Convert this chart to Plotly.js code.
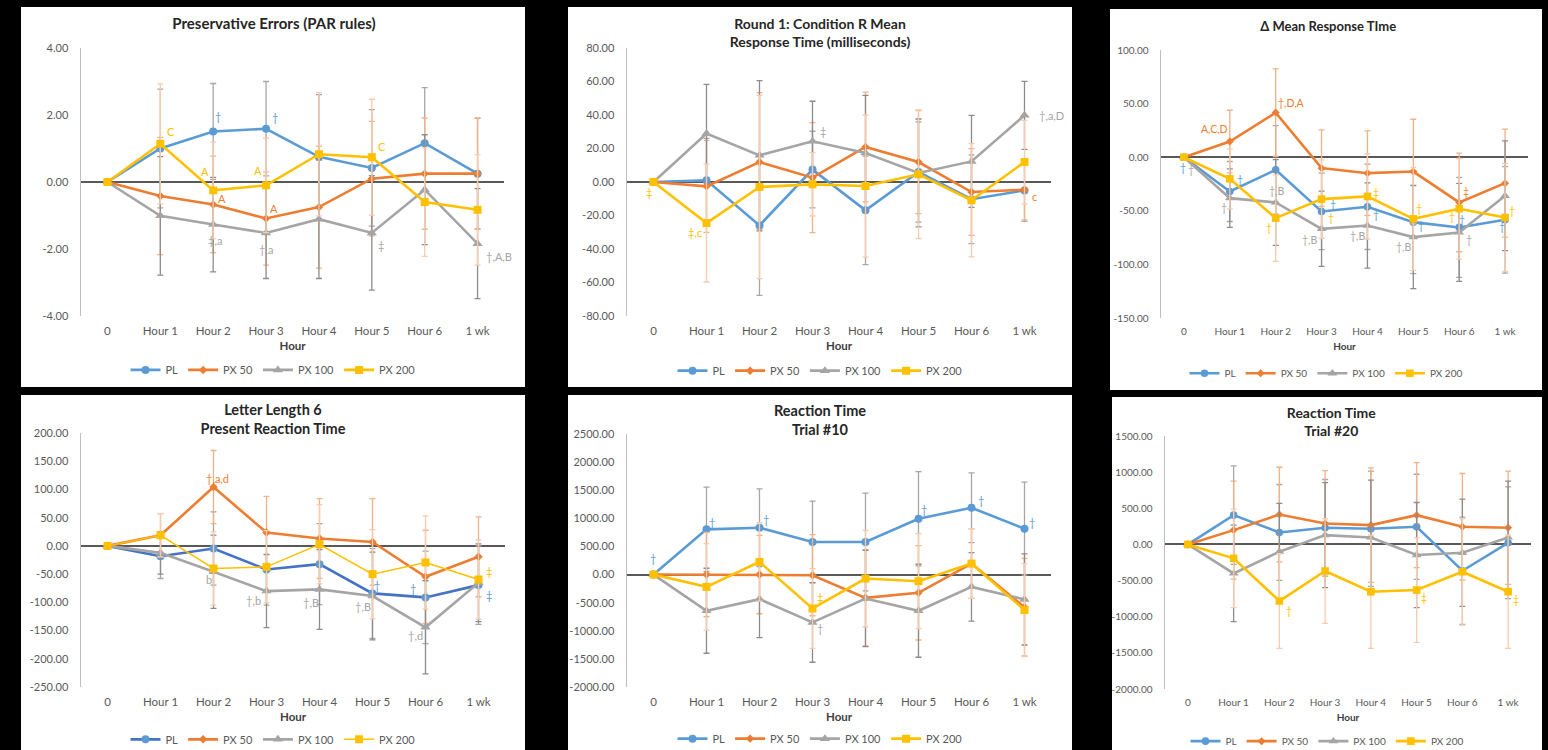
<!DOCTYPE html>
<html><head><meta charset="utf-8">
<script src="https://cdn.plot.ly/plotly-3.0.1.min.js"></script>
<style>
html,body{margin:0;padding:0;background:#000;width:1548px;height:750px;overflow:hidden;}
.panel{position:absolute;background:#fff;}
</style></head><body>
<div id="p1" class="panel" style="left:21px;top:7px;width:504px;height:380px"></div>
<div id="p2" class="panel" style="left:568px;top:7px;width:504px;height:380px"></div>
<div id="p3" class="panel" style="left:1110px;top:9px;width:432px;height:381px"></div>
<div id="p4" class="panel" style="left:21px;top:395px;width:504px;height:355px"></div>
<div id="p5" class="panel" style="left:568px;top:395px;width:504px;height:355px"></div>
<div id="p6" class="panel" style="left:1112px;top:397px;width:430px;height:353px"></div>
<script>
// ---------- shared categories ----------
const hours = ['0','Hour 1','Hour 2','Hour 3','Hour 4','Hour 5','Hour 6','1 wk'];
const seriesNames = ['PL','PX 50','PX 100','PX 200'];

// ---------- Panel 1: Preservative Errors (PAR rules) ----------
const p1Title = '<b>Preservative Errors (PAR rules)</b>';
const p1PL    = [0, 1.00, 1.51, 1.59, 0.75, 0.42, 1.16, 0.25];
const p1PX50  = [0, -0.42, -0.67, -1.09, -0.75, 0.10, 0.25, 0.25];
const p1PX100 = [0, -1.01, -1.27, -1.52, -1.11, -1.52, -0.23, -1.84];
const p1PX200 = [0, 1.14, -0.25, -0.10, 0.83, 0.74, -0.60, -0.83];
const p1PLerr    = [0, 1.77, 1.43, 1.41, 1.86, 1.74, 1.66, 1.65];
const p1PX50err  = [0, 1.75, 1.44, 1.39, 1.82, 1.71, 1.66, 1.66];
const p1PX100err = [0, 1.77, 1.41, 1.36, 1.77, 1.71, 1.64, 1.64];
const p1PX200err = [0, 1.79, 1.44, 1.41, 1.84, 1.73, 1.62, 1.65];
const p1Ticks = [-4, -2, 0, 2, 4];
const p1Notes = [
  [2.09, 1.96, '†', 0], [3.17, 1.94, '†', 0],
  [1.20, 1.51, 'C', 3], [5.19, 1.05, 'C', 3],
  [1.84, 0.30, 'A', 3], [2.84, 0.33, 'A', 3],
  [2.16, -0.50, 'A', 1], [3.15, -0.80, 'A', 1],
  [2.03, -1.76, '‡,a', 2], [3.00, -2.01, '†,a', 2],
  [5.18, -1.89, '‡', 2], [7.41, -2.21, '†,A,B', 2]
];

// ---------- Panel 2: Round 1 Condition R Mean Response Time ----------
const p2Title = '<b>Round 1: Condition R Mean<br>Response Time (milliseconds)</b>';
const p2PL    = [0, 1.0, -25.9, 7.4, -16.9, 6.0, -10.3, -5.0];
const p2PX50  = [0, -2.6, 11.9, 2.6, 20.9, 11.9, -6.0, -4.6];
const p2PX100 = [0, 28.9, 15.9, 24.3, 17.3, 5.4, 12.3, 39.8];
const p2PX200 = [0, -24.5, -3.0, -1.4, -2.4, 4.6, -10.9, 11.9];
const p2PLerr    = [0, 25.0, 41.8, 22.9, 32.4, 29.9, 26.5, 18.5];
const p2PX50err  = [0, 27.5, 41.4, 32.8, 32.8, 30.8, 25.9, 18.0];
const p2PX100err = [0, 29.4, 44.6, 23.9, 34.4, 32.2, 27.5, 20.3];
const p2PX200err = [0, 35.2, 54.7, 18.9, 42.4, 38.4, 33.8, 24.9];
const p2Ticks = [-80, -60, -40, -20, 0, 20, 40, 60, 80];
const p2Notes = [
  [-0.09, -6.0, '‡', 3], [0.78, -30.4, '‡,c', 3],
  [3.20, 29.9, '‡', 2], [7.50, 39.8, '†,a,D', 2],
  [7.18, -8.6, 'c', 1]
];

// ---------- Panel 3: Δ Mean Response TIme ----------
const p3Title = '<b>Δ Mean Response TIme</b>';
const p3PL    = [0, -32.0, -11.8, -50.6, -46.3, -60.6, -65.5, -58.4];
const p3PX50  = [0, 14.6, 41.6, -10.2, -14.9, -13.4, -42.2, -24.2];
const p3PX100 = [0, -38.2, -42.2, -66.8, -63.7, -74.5, -70.2, -36.0];
const p3PX200 = [0, -20.2, -56.8, -39.1, -36.6, -57.5, -48.1, -56.2];
const p3PLerr    = [0, 28.0, 41.3, 35.7, 39.8, 48.0, 46.6, 49.7];
const p3PX50err  = [0, 29.2, 40.7, 35.7, 39.4, 48.8, 46.0, 50.3];
const p3PX100err = [0, 27.3, 40.0, 35.1, 39.8, 48.1, 45.7, 51.2];
const p3PX200err = [0, 28.0, 40.4, 36.6, 39.8, 48.1, 46.9, 50.3];
const p3Ticks = [-150, -100, -50, 0, 50, 100];
const p3Notes = [
  [0.66, 26.1, 'A,C,D', 1], [2.34, 50.9, '†,D,A', 1],
  [-0.01, -10.2, '†', 0], [0.15, -12.4, '†', 2],
  [1.22, -21.1, '†', 0], [0.88, -47.5, '†', 2],
  [2.02, -31.4, '†,B', 2], [1.86, -66.1, '†', 3],
  [3.26, -44.4, '†', 0], [3.21, -56.8, '†', 3], [2.73, -77.6, '†,B', 2],
  [4.19, -33.5, '‡', 3], [4.18, -53.7, '†', 0], [3.78, -73.3, '†,B', 2],
  [5.13, -48.4, '†', 3], [5.17, -64.6, '†', 0], [4.79, -84.2, '†,B', 2],
  [6.14, -32.9, '‡', 1], [5.84, -55.9, '†', 3], [6.06, -58.4, '†', 0], [6.21, -77.6, '†', 2],
  [7.15, -50.0, '†', 3], [6.94, -65.5, '†', 0]
];

// ---------- Panel 4: Letter Length 6 Present Reaction Time ----------
const p4Title = '<b>Letter Length 6<br>Present Reaction Time</b>';
const p4PL    = [0, -18.3, -4.7, -41.8, -32.4, -84.2, -91.3, -69.5];
const p4PX50  = [0, 18.8, 104.2, 23.6, 13.0, 7.0, -54.8, -19.4];
const p4PX100 = [0, -12.4, -45.9, -80.1, -77.1, -88.9, -144.3, -65.4];
const p4PX200 = [0, 18.8, -40.0, -37.1, 2.9, -50.0, -29.4, -59.5];
const p4PLerr    = [0, 39.5, 64.8, 63.0, 71.8, 79.5, 81.9, 69.5];
const p4PX50err  = [0, 38.3, 64.8, 64.2, 70.7, 76.6, 82.5, 70.7];
const p4PX100err = [0, 37.7, 64.8, 64.8, 70.7, 77.7, 82.5, 68.9];
const p4PX200err = [0, 38.3, 64.8, 64.0, 70.1, 78.9, 82.5, 70.0];
const p4Ticks = [-250, -200, -150, -100, -50, 0, 50, 100, 150, 200];
const p4Notes = [
  [2.07, 119.0, '†,a,d', 1], [1.92, -58.9, 'b', 2],
  [2.75, -96.0, '†,b', 2], [3.84, -100.0, '†,B', 2], [4.83, -107.8, '†,B', 2],
  [5.09, -70.7, '†', 0], [5.76, -75.4, '†', 0], [5.82, -159.0, '†,d', 2],
  [7.19, -44.8, '‡', 3], [7.19, -87.2, '‡', 0]
];

// ---------- Panel 5: Reaction Time Trial #10 ----------
const p5Title = '<b>Reaction Time<br>Trial #10</b>';
const p5PL    = [0, 804, 833, 579, 579, 993, 1188, 816];
const p5PX50  = [0, 0, 0, -12, -414, -325, 195, -580];
const p5PX100 = [0, -644, -437, -851, -426, -644, -219, -443];
const p5PX200 = [0, -219, 225, -603, -71, -118, 195, -632];
const p5PLerr    = [0, 750, 691, 727, 869, 839, 620, 827];
const p5PX50err  = [0, 750, 697, 721, 857, 839, 620, 869];
const p5PX100err = [0, 756, 686, 709, 857, 827, 609, 810];
const p5PX200err = [0, 768, 697, 709, 857, 845, 620, 827];
const p5Ticks = [-2000, -1500, -1000, -500, 0, 500, 1000, 1500, 2000, 2500];
const p5Notes = [
  [-0.01, 284, '†', 0], [1.11, 934, '†', 0], [2.13, 975, '†', 0],
  [5.10, 1158, '†', 0], [6.17, 1318, '†', 0], [7.15, 934, '†', 0],
  [3.14, -408, '‡', 3], [3.14, -957, '†', 2]
];

// ---------- Panel 6: Reaction Time Trial #20 ----------
const p6Title = '<b>Reaction Time<br>Trial #20</b>';
const p6PL    = [0, 405, 166, 230, 216, 244, -364, 23];
const p6PX50  = [0, 198, 414, 290, 267, 405, 244, 230];
const p6PX100 = [0, -401, -101, 129, 97, -147, -115, 97];
const p6PX200 = [0, -193, -783, -368, -654, -631, -378, -654];
const p6PLerr    = [0, 681, 663, 668, 797, 727, 741, 773];
const p6PX50err  = [0, 677, 654, 732, 792, 727, 737, 783];
const p6PX100err = [0, 668, 670, 727, 792, 727, 741, 778];
const p6PX200err = [0, 681, 654, 723, 783, 723, 737, 783];
const p6Ticks = [-2000, -1500, -1000, -500, 0, 500, 1000, 1500];
const p6Notes = [
  [2.20, -921, '†', 3], [5.17, -737, '‡', 3], [7.17, -769, '‡', 3]
];

// ---------- styling ----------
const lineColors = ['#5B9BD5', '#ED7D31', '#A5A5A5', '#FFC000'];
const errColors  = ['#A6A6A6', '#F4B183', '#8C8C8C', '#F8CBAD'];
const symbols    = ['circle', 'diamond', 'triangle-up', 'square'];
const symSizes   = [8, 6.5, 9, 8];
const FONT = 'Lato, "Open Sans", sans-serif';

function build(id, cfg) {
  const vals = cfg.values, errs = cfg.errors;
  const traces = vals.map((v, i) => ({
    type: 'scatter', mode: 'lines+markers', x: hours, y: v, name: seriesNames[i],
    line: {color: (cfg.lineOverride && cfg.lineOverride[i]) || lineColors[i],
           width: (cfg.widthOverride && cfg.widthOverride[i]) || 2.6},
    marker: {symbol: symbols[i], size: symSizes[i] * (cfg.mscale || 1), color: lineColors[i]},
    error_y: {type: 'data', array: errs[i], visible: true, color: errColors[i], thickness: 1.3, width: 3},
    cliponaxis: false
  }));
  const fs = cfg.fs;
  const annotations = cfg.notes.map(n => ({
    x: n[0], y: n[1], xref: 'x', yref: 'y', text: n[2], showarrow: false,
    font: {family: FONT, size: cfg.afs, color: lineColors[n[3]]}
  }));
  const layout = {
    width: cfg.w, height: cfg.h,
    paper_bgcolor: '#ffffff', plot_bgcolor: '#ffffff',
    margin: {l: cfg.m[0], r: cfg.m[1], t: cfg.m[2], b: cfg.m[3], autoexpand: false},
    font: {family: FONT, size: fs, color: '#595959'},
    title: {text: cfg.title, x: cfg.tx, xanchor: 'center', xref: 'container',
            y: cfg.ty, yanchor: 'middle', yref: 'container',
            font: {family: FONT, size: cfg.tfs, color: '#262626'}},
    showlegend: true,
    legend: {orientation: 'h', x: 0.5, xanchor: 'center', xref: 'container',
             y: cfg.ly, yanchor: 'middle', yref: 'container',
             font: {family: FONT, size: cfg.lfs || fs, color: '#595959'}, itemwidth: 30,
             bgcolor: 'rgba(0,0,0,0)'},
    xaxis: {type: 'category', range: [-0.5, 7.5], showline: false, showgrid: false,
            zeroline: false, ticks: '', automargin: false, fixedrange: true,
            tickfont: {family: FONT, size: cfg.xfs, color: '#595959'},
            ticklabelstandoff: 6,
            title: {text: '<b>Hour</b>', standoff: 6, font: {family: FONT, size: cfg.xfs, color: '#404040'}}},
    yaxis: {range: [cfg.ticks[0], cfg.ticks[cfg.ticks.length - 1]], tickmode: 'array',
            tickvals: cfg.ticks, ticktext: cfg.ticks.map(t => t.toFixed(2)),
            showline: true, linecolor: '#BFBFBF', linewidth: 1.5, showgrid: false,
            zeroline: true, zerolinecolor: '#595959', zerolinewidth: 2,
            ticks: '', ticklabelstandoff: 9, automargin: false, fixedrange: true,
            tickfont: {family: FONT, size: fs, color: '#595959'}},
    annotations: annotations
  };
  Plotly.newPlot(id, traces, layout, {staticPlot: true, displayModeBar: false});
}

build('p1', {w: 504, h: 380, m: [60, 21, 41, 71], title: p1Title, tx: 0.502, ty: 0.955, tfs: 15, ly: 0.045, fs: 11, xfs: 11.5, afs: 11,
  values: [p1PL, p1PX50, p1PX100, p1PX200], errors: [p1PLerr, p1PX50err, p1PX100err, p1PX200err],
  ticks: p1Ticks, notes: p1Notes});
build('p2', {w: 504, h: 380, m: [59, 21, 41, 71], title: p2Title, tx: 0.5, ty: 0.9434, tfs: 14, ly: 0.043, fs: 11, xfs: 11.5, afs: 11,
  values: [p2PL, p2PX50, p2PX100, p2PX200], errors: [p2PLerr, p2PX50err, p2PX100err, p2PX200err],
  ticks: p2Ticks, notes: p2Notes});
build('p3', {w: 432, h: 381, m: [51, 14, 41, 72], title: p3Title, tx: 0.505, ty: 0.954, tfs: 13, ly: 0.044, fs: 10, xfs: 10, afs: 10.5, mscale: 0.95,
  values: [p3PL, p3PX50, p3PX100, p3PX200], errors: [p3PLerr, p3PX50err, p3PX100err, p3PX200err],
  ticks: p3Ticks, notes: p3Notes});
build('p4', {w: 504, h: 355, m: [60, 20, 38, 63], title: p4Title, tx: 0.5, ty: 0.9425, tfs: 14.5, ly: 0.030, fs: 11, xfs: 11.5, afs: 11,
  values: [p4PL, p4PX50, p4PX100, p4PX200], errors: [p4PLerr, p4PX50err, p4PX100err, p4PX200err],
  ticks: p4Ticks, notes: p4Notes, lineOverride: ['#4472C4', null, null, null], widthOverride: [null, null, null, 1.5]});
build('p5', {w: 504, h: 355, m: [59, 21, 39, 63], title: p5Title, tx: 0.5, ty: 0.941, tfs: 14.5, ly: 0.032, fs: 11, xfs: 11.5, afs: 11,
  values: [p5PL, p5PX50, p5PX100, p5PX200], errors: [p5PLerr, p5PX50err, p5PX100err, p5PX200err],
  ticks: p5Ticks, notes: p5Notes});
build('p6', {w: 430, h: 353, m: [53, 11, 39, 61], title: p6Title, tx: 0.51, ty: 0.940, tfs: 14, ly: 0.025, fs: 10, xfs: 10, afs: 10.5, lfs: 10, mscale: 0.95,
  values: [p6PL, p6PX50, p6PX100, p6PX200], errors: [p6PLerr, p6PX50err, p6PX100err, p6PX200err],
  ticks: p6Ticks, notes: p6Notes});
</script></body></html>
